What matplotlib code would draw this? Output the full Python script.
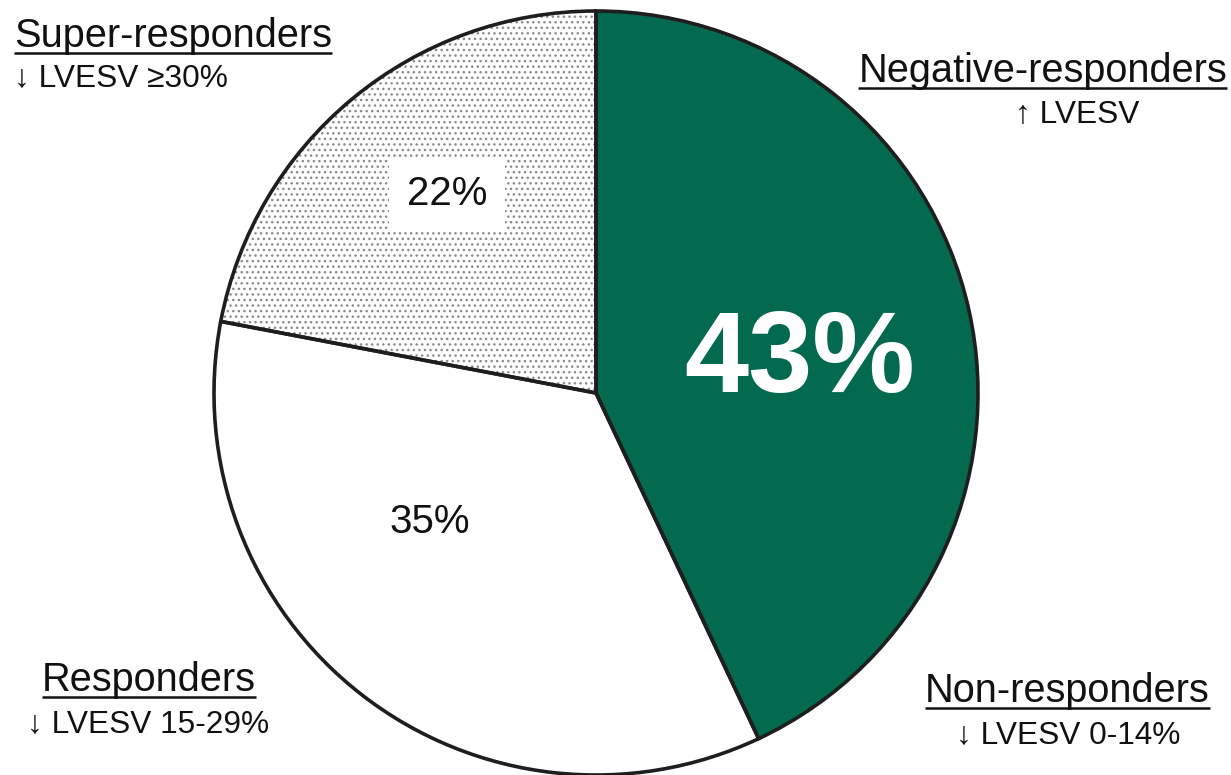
import matplotlib
matplotlib.use("Agg")
import matplotlib.pyplot as plt

plt.rcParams['font.family'] = ['Liberation Sans', 'DejaVu Sans']

# Share of patients in each response group (%), clockwise from 12 o'clock
shares = [43, 35, 22]
share_labels = ["43%", "35%", "22%"]
fill_colors = ["#03694f", "#ffffff", "#ffffff"]
hatches = [None, None, "..."]

group_titles = ["Super-responders", "Negative-responders", "Responders", "Non-responders"]
group_criteria = ["\u2193 LVESV \u226530%", "\u2191 LVESV", "\u2193 LVESV 15-29%", "\u2193 LVESV 0-14%"]

W, H = 1231, 775
fig = plt.figure(figsize=(W / 100, H / 100), dpi=100)
ax = fig.add_axes([0, 0, 1, 1])

center = (596, 382)
radius = 382

# filled wedges (hatch takes the wedge edge colour, so no outline here)
wedges, _ = ax.pie(shares, colors=fill_colors, startangle=90, counterclock=False,
                   center=center, radius=radius, frame=True,
                   wedgeprops=dict(linewidth=0, edgecolor="none"))
for w, h in zip(wedges, hatches):
    if h:
        w.set_hatch(h)
        w.set_edgecolor("#8a8a8a")
        w.set_linewidth(0)

# outlines on top
ax.pie(shares, colors=["none"] * len(shares), startangle=90, counterclock=False,
       center=center, radius=radius, frame=True,
       wedgeprops=dict(linewidth=2.6, edgecolor="#1e1e1e", fill=False))

ax.set_xlim(0, W)
ax.set_ylim(0, H)
ax.set_aspect("equal")
ax.axis("off")

# value labels inside the slices
ax.text(800, H - 362, share_labels[0], color="white", fontsize=83, fontweight="bold",
        ha="center", va="center")
ax.text(430, H - 522, share_labels[1], color="#111111", fontsize=29,
        ha="center", va="center")
ax.text(447, H - 194, share_labels[2], color="#111111", fontsize=29,
        ha="center", va="center",
        bbox=dict(boxstyle="square,pad=0.45", facecolor="white", edgecolor="none"))

# group annotations:
# (title x, title baseline, title align, criteria x, criteria baseline, criteria align)
layout = [
    (14, 47, "left", 14, 86, "left"),
    (1227, 82, "right", 1015, 122, "left"),
    (42, 691, "left", 27, 732, "left"),
    (1210, 702, "right", 1180, 743, "right"),
]
title_texts = []
for (xt, yt, hat, xc, yc, hac), title, crit in zip(layout, group_titles, group_criteria):
    t = ax.text(xt, H - yt, title, fontsize=28.6, ha=hat, va="baseline", color="#111111")
    ax.text(xc, H - yc, crit, fontsize=22.8, ha=hac, va="baseline", color="#111111")
    title_texts.append((t, yt))

# underline each group title just below its baseline
fig.canvas.draw()
renderer = fig.canvas.get_renderer()
for t, yt in title_texts:
    bb = t.get_window_extent(renderer)
    y = H - yt - 6
    ax.plot([bb.x0, bb.x1], [y, y], color="#111111", linewidth=1.8,
            solid_capstyle="butt")

fig.savefig("out.png", dpi=100, facecolor="white")
